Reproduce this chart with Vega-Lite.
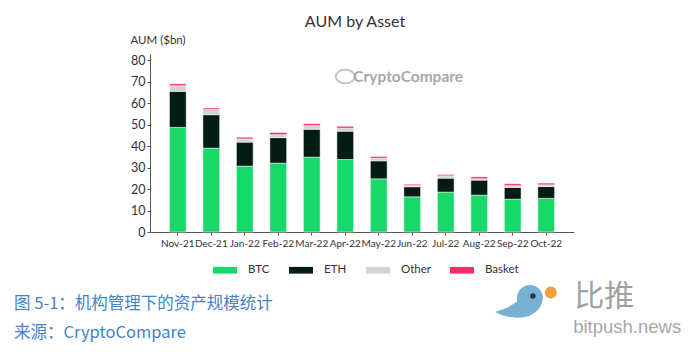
{
  "$schema": "https://vega.github.io/schema/vega-lite/v6.json",
  "autosize": {"type": "none"},
  "padding": {"left": 150, "top": 54, "right": 126, "bottom": 122},
  "width": 424,
  "height": 178,
  "background": "white",
  "title": {"text": "AUM by Asset", "fontSize": 16, "font": "Lato", "fontWeight": "normal", "color": "#333333", "anchor": "middle", "frame": "group", "dx": -7, "offset": 4},
  "encoding": {
    "x": {"field": "month", "type": "nominal",
          "scale": {"domain": ["Nov-21", "Dec-21", "Jan-22", "Feb-22", "Mar-22", "Apr-22", "May-22", "Jun-22", "Jul-22", "Aug-22", "Sep-22", "Oct-22"], "paddingInner": 0.5, "paddingOuter": 0.58},
          "axis": {"title": null, "labelAngle": 0, "tickSize": 3, "labelFontSize": 10, "labelPadding": 3, "domainColor": "#555555", "tickColor": "#555555"}},
    "y": {"field": "value", "type": "quantitative",
          "scale": {"domain": [0, 83], "nice": false},
          "axis": {"values": [0, 10, 20, 30, 40, 50, 60, 70, 80], "labelOverlap": false, "grid": false, "tickSize": 3, "labelPadding": 2, "labelFontSize": 12.5,
                   "title": "AUM ($bn)", "titleAngle": 0, "titleX": -20, "titleY": -14, "titleAlign": "left", "titleBaseline": "middle", "titleFontWeight": "normal", "titleFontSize": 11.5, "domainColor": "#555555", "tickColor": "#555555"}}
  },
  "layer": [
    {
      "data": {"values": [
        {"month": "Nov-21", "asset": "BTC", "value": 48.8, "k": 1},
        {"month": "Nov-21", "asset": "ETH", "value": 16.8, "k": 2},
        {"month": "Nov-21", "asset": "Other", "value": 2.6, "k": 3},
        {"month": "Nov-21", "asset": "Basket", "value": 0.9, "k": 4},
        {"month": "Dec-21", "asset": "BTC", "value": 39.1, "k": 1},
        {"month": "Dec-21", "asset": "ETH", "value": 15.6, "k": 2},
        {"month": "Dec-21", "asset": "Other", "value": 2.4, "k": 3},
        {"month": "Dec-21", "asset": "Basket", "value": 0.7, "k": 4},
        {"month": "Jan-22", "asset": "BTC", "value": 30.7, "k": 1},
        {"month": "Jan-22", "asset": "ETH", "value": 11.2, "k": 2},
        {"month": "Jan-22", "asset": "Other", "value": 1.5, "k": 3},
        {"month": "Jan-22", "asset": "Basket", "value": 0.8, "k": 4},
        {"month": "Feb-22", "asset": "BTC", "value": 32.1, "k": 1},
        {"month": "Feb-22", "asset": "ETH", "value": 11.9, "k": 2},
        {"month": "Feb-22", "asset": "Other", "value": 1.4, "k": 3},
        {"month": "Feb-22", "asset": "Basket", "value": 1.0, "k": 4},
        {"month": "Mar-22", "asset": "BTC", "value": 34.9, "k": 1},
        {"month": "Mar-22", "asset": "ETH", "value": 13.0, "k": 2},
        {"month": "Mar-22", "asset": "Other", "value": 1.7, "k": 3},
        {"month": "Mar-22", "asset": "Basket", "value": 0.9, "k": 4},
        {"month": "Apr-22", "asset": "BTC", "value": 33.8, "k": 1},
        {"month": "Apr-22", "asset": "ETH", "value": 13.2, "k": 2},
        {"month": "Apr-22", "asset": "Other", "value": 1.4, "k": 3},
        {"month": "Apr-22", "asset": "Basket", "value": 0.9, "k": 4},
        {"month": "May-22", "asset": "BTC", "value": 24.8, "k": 1},
        {"month": "May-22", "asset": "ETH", "value": 8.4, "k": 2},
        {"month": "May-22", "asset": "Other", "value": 1.2, "k": 3},
        {"month": "May-22", "asset": "Basket", "value": 0.8, "k": 4},
        {"month": "Jun-22", "asset": "BTC", "value": 16.4, "k": 1},
        {"month": "Jun-22", "asset": "ETH", "value": 4.7, "k": 2},
        {"month": "Jun-22", "asset": "Other", "value": 0.6, "k": 3},
        {"month": "Jun-22", "asset": "Basket", "value": 0.6, "k": 4},
        {"month": "Jul-22", "asset": "BTC", "value": 18.6, "k": 1},
        {"month": "Jul-22", "asset": "ETH", "value": 6.5, "k": 2},
        {"month": "Jul-22", "asset": "Other", "value": 1.1, "k": 3},
        {"month": "Jul-22", "asset": "Basket", "value": 0.6, "k": 4},
        {"month": "Aug-22", "asset": "BTC", "value": 17.2, "k": 1},
        {"month": "Aug-22", "asset": "ETH", "value": 7.0, "k": 2},
        {"month": "Aug-22", "asset": "Other", "value": 0.6, "k": 3},
        {"month": "Aug-22", "asset": "Basket", "value": 0.9, "k": 4},
        {"month": "Sep-22", "asset": "BTC", "value": 15.3, "k": 1},
        {"month": "Sep-22", "asset": "ETH", "value": 5.5, "k": 2},
        {"month": "Sep-22", "asset": "Other", "value": 0.8, "k": 3},
        {"month": "Sep-22", "asset": "Basket", "value": 0.9, "k": 4},
        {"month": "Oct-22", "asset": "BTC", "value": 15.7, "k": 1},
        {"month": "Oct-22", "asset": "ETH", "value": 5.5, "k": 2},
        {"month": "Oct-22", "asset": "Other", "value": 0.8, "k": 3},
        {"month": "Oct-22", "asset": "Basket", "value": 0.8, "k": 4}
      ]},
      "mark": {"type": "bar", "stroke": "white", "strokeWidth": 0.5},
      "encoding": {
        "color": {"field": "asset", "type": "nominal",
                  "scale": {"domain": ["BTC", "ETH", "Other", "Basket"], "range": ["#19d86a", "#031c14", "#d3d3d3", "#ff2a68"]},
                  "legend": {"title": null, "orient": "none", "legendX": 63, "legendY": 204, "direction": "horizontal", "symbolType": "M-1,-0.28H1V0.28H-1Z", "symbolSize": 576, "symbolStrokeWidth": 0, "symbolOpacity": 1, "labelFontSize": 11.5, "labelColor": "#333333", "labelOffset": 11, "columnPadding": 19}},
        "order": {"field": "k", "type": "quantitative"}
      }
    },
    {
      "data": {"values": [{"label": "CryptoCompare", "month": "Apr-22", "value": 72.5}]},
      "mark": {"type": "text", "align": "left", "baseline": "middle", "dx": 8, "fontSize": 15.5, "fontWeight": "bold", "font": "Lato", "color": "#a8a8a8"},
      "encoding": {"text": {"field": "label"}}
    },
    {
      "data": {"values": [{"month": "Apr-22", "value": 72.5}]},
      "mark": {"type": "point", "shape": "M-1,0A1,0.72 0 1 1 1,0A1,0.72 0 1 1 -1,0Z", "size": 361, "filled": false, "stroke": "#a8a8a8", "strokeWidth": 1.8}
    },
    {
      "data": {"values": [
        {"label": "图 5-1：机构管理下的资产规模统计", "month": "Nov-21", "value": -33.8},
        {"label": "来源：CryptoCompare", "month": "Nov-21", "value": -46.9}
      ]},
      "mark": {"type": "text", "align": "left", "baseline": "middle", "dx": -163.7, "fontSize": 16.5, "font": "Noto Sans CJK SC", "color": "#4482cc"},
      "encoding": {"text": {"field": "label"}}
    },
    {
      "data": {"values": [{"month": "Oct-22", "value": -32.4}]},
      "mark": {"type": "point", "shape": "M0.92,-0.1A0.52,0.52 0 1 0 -0.1,0.0L-0.5,0.25L-1,0.42Q-0.4,0.75 0.3,0.6Q0.85,0.4 0.92,-0.1Z", "size": 2500, "filled": true, "color": "#78b0d4", "opacity": 1},
      "encoding": {"xOffset": {"value": -18}}
    },
    {
      "data": {"values": [{"month": "Oct-22", "value": -29.8}]},
      "mark": {"type": "point", "shape": "circle", "size": 30, "filled": true, "color": "#333333", "opacity": 1},
      "encoding": {"xOffset": {"value": -5}}
    },
    {
      "data": {"values": [{"month": "Oct-22", "value": -28.2}]},
      "mark": {"type": "point", "shape": "circle", "size": 140, "filled": true, "color": "#f0a03c", "opacity": 1},
      "encoding": {"xOffset": {"value": 13}}
    },
    {
      "data": {"values": [{"label": "比推", "month": "Oct-22", "value": -30.1}]},
      "mark": {"type": "text", "align": "left", "baseline": "middle", "dx": 28, "fontSize": 30, "font": "Noto Sans CJK SC", "color": "#a0a0a0"},
      "encoding": {"text": {"field": "label"}}
    },
    {
      "data": {"values": [{"label": "bitpush.news", "month": "Oct-22", "value": -44.1}]},
      "mark": {"type": "text", "align": "left", "baseline": "middle", "dx": 27, "fontSize": 18.5, "font": "Liberation Sans", "color": "#a8a8a8"},
      "encoding": {"text": {"field": "label"}}
    }
  ],
  "config": {
    "view": {"stroke": null},
    "font": "Lato",
    "axis": {"labelColor": "#333333", "titleColor": "#333333", "labelFont": "Lato", "titleFont": "Lato"},
    "legend": {"labelFont": "Lato"}
  }
}
